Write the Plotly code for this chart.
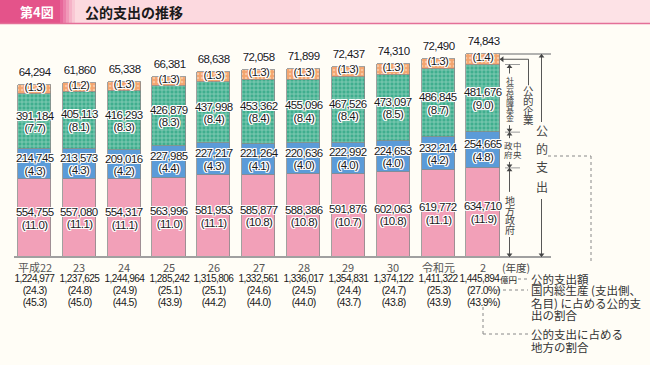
import plotly.graph_objects as go

# ---------------- data ----------------
years = ["平成22", "23", "24", "25", "26", "27", "28", "29", "30", "令和元", "2"]
local_gov = [554755, 557080, 554317, 563996, 581953, 585877, 588386, 591876, 602063, 619772, 634710]
local_gdp = [11.0, 11.1, 11.1, 11.0, 11.1, 10.8, 10.8, 10.7, 10.8, 11.1, 11.9]
central_gov = [214745, 213573, 209016, 227985, 227217, 221264, 220636, 222992, 224653, 232214, 254665]
central_gdp = [4.3, 4.3, 4.2, 4.4, 4.3, 4.1, 4.0, 4.0, 4.0, 4.2, 4.8]
social_fund = [391184, 405113, 416293, 426879, 437998, 453362, 455096, 467526, 473097, 486845, 481676]
social_gdp = [7.7, 8.1, 8.3, 8.3, 8.4, 8.4, 8.4, 8.4, 8.5, 8.7, 9.0]
public_ent = [64294, 61860, 65338, 66381, 68638, 72058, 71899, 72437, 74310, 72490, 74843]
public_gdp = [1.3, 1.2, 1.3, 1.3, 1.3, 1.3, 1.3, 1.3, 1.3, 1.3, 1.4]
total_exp = [1224977, 1237625, 1244964, 1285242, 1315806, 1332561, 1336017, 1354831, 1374122, 1411322, 1445894]
total_gdp = [24.3, 24.8, 24.9, 25.1, 25.1, 24.6, 24.5, 24.4, 24.7, 25.3, 27.0]
local_share = [45.3, 45.0, 44.5, 43.9, 44.2, 44.0, 44.0, 43.7, 43.8, 43.9, 43.9]

# ---------------- layout geometry ----------------
W, H = 650, 365
X0_PX, DX_PX = 34.5, 44.85          # first bar center, bar pitch (px)
BASE_PX = 257.0                      # baseline pixel row
SCALE = 203.0 / 1445894              # px per unit
x_range = [-X0_PX / DX_PX, (W - X0_PX) / DX_PX]
y_range = [-(H - BASE_PX) / SCALE, BASE_PX / SCALE]

BG = "#fffdf6"
NUM_FONT = "Liberation Sans"
JP_FONT = "Noto Sans CJK JP"
HALO = "-1px -1px 0 #fff, 1px -1px 0 #fff, -1px 1px 0 #fff, 1px 1px 0 #fff, 0 1px 0 #fff, 0 -1px 0 #fff, 1px 0 0 #fff, -1px 0 0 #fff"
ARROW_C = "#444444"


def px(x):
    return x / W


def py(y):
    return 1 - y / H


def xdata(xpx):
    return (xpx - X0_PX) / DX_PX


xs = list(range(len(years)))
fig = go.Figure()
common = dict(x=xs, width=0.74, hoverinfo="skip", showlegend=False)
fig.add_bar(y=local_gov, marker=dict(color="#f2a0b8", line=dict(color="#8a8a8a", width=0.8)), **common)
fig.add_bar(y=central_gov, marker=dict(color="#5b9bd8", line=dict(color="#8a8a8a", width=0.8)), **common)
fig.add_bar(y=social_fund, marker=dict(color="#3fae8e", line=dict(color="#8a8a8a", width=0.8),
                                       pattern=dict(shape="+", fgcolor="#dff3ea", bgcolor="#3fae8e",
                                                    size=4, solidity=0.35)), **common)
fig.add_bar(y=public_ent, marker=dict(color="#f3a46e", line=dict(color="#8a8a8a", width=0.8),
                                      pattern=dict(shape=".", fgcolor="#fde8d4", bgcolor="#f3a46e",
                                                   size=4, solidity=0.3)), **common)

ann = []
shapes = []


def note(x, y, text, family=JP_FONT, size=11, color="#1a1a1a", xref="paper", yref="paper",
         xanchor="center", yshift=0, xshift=0, halo=False):
    f = dict(family=family, size=size, color=color)
    if halo:
        f["shadow"] = HALO
    ann.append(dict(x=x, y=y, xref=xref, yref=yref, text=text, showarrow=False, font=f,
                    xanchor=xanchor, yanchor="middle", yshift=yshift, xshift=xshift))


# segment labels
for i in xs:
    c1 = local_gov[i]
    c2 = c1 + central_gov[i]
    c3 = c2 + social_fund[i]
    c4 = c3 + public_ent[i]
    for lo, hi, v, r in [(0, c1, local_gov[i], local_gdp[i]),
                         (c1, c2, central_gov[i], central_gdp[i]),
                         (c2, c3, social_fund[i], social_gdp[i])]:
        mid = (lo + hi) / 2
        note(i, mid, f"{v:,}", NUM_FONT, 11.5, xref="x", yref="y", yshift=6, halo=True)
        note(i, mid, f"({r:.1f})", NUM_FONT, 11.5, xref="x", yref="y", yshift=-6.5, halo=True)
    mid = (c3 + c4) / 2
    note(i, mid, f"({public_gdp[i]:.1f})", NUM_FONT, 11.5, xref="x", yref="y", yshift=2.5, halo=True)
    note(i, c4, f"{public_ent[i]:,}", NUM_FONT, 11.5, xref="x", yref="y", yshift=13, halo=True)

# bottom rows
n = len(years)
for i in xs:
    last_col = i == n - 1
    suf = "%" if last_col else ""
    note(i, py(267), years[i], JP_FONT, 11, "#555555", xref="x")
    note(i, py(278.5), f"{total_exp[i]:,}", NUM_FONT, 10.1, xref="x", xshift=-4 if last_col else 0)
    note(i, py(290), f"({total_gdp[i]:.1f}{suf})", NUM_FONT, 10.5, xref="x")
    note(i, py(302), f"({local_share[i]:.1f}{suf})", NUM_FONT, 10.5, xref="x")

note(px(498), py(278.5), "億円", JP_FONT, 8.5, xanchor="left")
note(px(516), py(267), "(年度)", JP_FONT, 10.5, "#444444")

# explanatory texts (bottom right)
for t, yy in [("公的支出額", 279), ("国内総生産 (支出側、", 290), ("名目) に占める公的支", 302.5),
              ("出の割合", 315), ("公的支出に占める", 334), ("地方の割合", 346.5)]:
    note(px(529), py(yy), t, JP_FONT, 11.5, "#333333", xanchor="left")

DOT = dict(color="#888888", width=1, dash="dot")
for (xa, ya, xb, yb) in [(518, 279, 528, 279), (497, 290, 528, 290), (483, 307, 483, 334),
                         (483, 334, 528, 334), (548, 156, 591, 156), (591, 156, 591, 262)]:
    shapes.append(dict(type="line", xref="paper", yref="paper", x0=px(xa), y0=py(ya), x1=px(xb), y1=py(yb),
                       line=DOT))

# brackets on the right of the last bar
last = n - 1
c1 = local_gov[last]
c2 = c1 + central_gov[last]
c3 = c2 + social_fund[last]
c4 = c3 + public_ent[last]
LINE = dict(color="#999999", width=1.5)
shapes.append(dict(type="line", xref="paper", yref="y", x0=px(14), x1=px(551), y0=0, y1=0,
                   line=dict(color="#a0a0a0", width=2)))
shapes.append(dict(type="line", xref="paper", yref="y", x0=px(499), x1=px(551), y0=c4, y1=c4, line=LINE))
for yv in (c3, c2, c1):
    shapes.append(dict(type="line", xref="paper", yref="y", x0=px(505), x1=px(520), y0=yv, y1=yv,
                       line=dict(color="#999999", width=1)))

heads_x, heads_y, heads_sym = [], [], []


def varrow(xp, tip, tail_px):
    """vertical arrow: tip at data value `tip`, tail `tail_px` pixels away (positive = below)."""
    tail = tip - tail_px * (1 / SCALE)
    shapes.append(dict(type="line", xref="paper", yref="y", x0=px(xp), x1=px(xp), y0=tip, y1=tail,
                       line=dict(color=ARROW_C, width=0.9)))
    sign = 1 if tail_px > 0 else -1
    heads_x.append(xdata(xp))
    heads_y.append(tip - sign * 2.2 / SCALE)
    heads_sym.append("triangle-up" if tail_px > 0 else "triangle-down")


def vtext(chars, xp, ys, size, color="#444444"):
    for ch, yy in zip(chars, ys):
        note(px(xp), py(yy), ch, JP_FONT, size, color)


# 公的支出
varrow(541.5, c4, 68)
varrow(541.5, 0, -58)
vtext("公的支出", 541.5, [130, 148, 166, 186], 12)
# 社会保障基金
varrow(509.5, c3, 9)
varrow(509.5, c2, -7)
vtext("社会保障基金", 509.5, [80.5, 87.8, 95.1, 102.4, 109.7, 117], 8)
# 中央政府
varrow(509.5, c2, 6)
varrow(509.5, c1, -6)
vtext("中央", 517.5, [145, 153.5], 8.5)
vtext("政府", 508.5, [145, 153.5], 8.5)
# 地方政府
varrow(509.5, c1, 24)
varrow(509.5, 0, -20)
vtext("地方政府", 509.5, [200.5, 210, 219.5, 229], 10)
# 公的企業
mid_pe = (c3 + c4) / 2
shapes.append(dict(type="line", xref="paper", yref="y", x0=px(500), x1=px(528.5), y0=mid_pe, y1=mid_pe,
                   line=dict(color=ARROW_C, width=0.9)))
shapes.append(dict(type="line", xref="paper", yref="y", x0=px(528.5), x1=px(528.5), y0=mid_pe,
                   y1=mid_pe - 26 / SCALE, line=dict(color=ARROW_C, width=0.9)))
heads_x.append(xdata(502.2))
heads_y.append(mid_pe)
heads_sym.append("triangle-left")
vtext("公的企業", 528.5, [91, 100.5, 110, 119.5], 10.5)

fig.add_scatter(x=heads_x, y=heads_y, mode="markers", hoverinfo="skip", showlegend=False,
                marker=dict(symbol=heads_sym, size=5, color=ARROW_C, line=dict(width=0)))

# header band
shapes.append(dict(type="rect", xref="paper", yref="paper", x0=0, x1=1, y0=py(23), y1=py(0),
                   fillcolor="#fcd9df", line=dict(width=0)))
shapes.append(dict(type="rect", xref="paper", yref="paper", x0=px(300), x1=1, y0=py(23), y1=py(0),
                   fillcolor="#fde2e6", line=dict(width=0)))
shapes.append(dict(type="rect", xref="paper", yref="paper", x0=0, x1=px(60), y0=py(23), y1=py(0),
                   fillcolor="#e4538a", line=dict(width=0)))
fade = ["#e7679a", "#ec80aa", "#f199b9", "#f5b2c7", "#f9c7d4"]
for k, col in enumerate(fade):
    shapes.append(dict(type="rect", xref="paper", yref="paper", x0=px(60 + 3 * k), x1=px(63 + 3 * k),
                       y0=py(23), y1=py(0), fillcolor=col, line=dict(width=0)))
shapes.append(dict(type="line", xref="paper", yref="paper", x0=0, x1=1, y0=py(23.5), y1=py(23.5),
                   line=dict(color="#e46f98", width=1.5)))
note(px(37), py(12), "<b>第4図</b>", JP_FONT, 13, "#ffffff")
note(px(83), py(12), "<b>公的支出の推移</b>", JP_FONT, 14, "#1a1a1a", xanchor="left")

fig.update_layout(
    width=W, height=H, barmode="stack", bargap=0,
    margin=dict(l=0, r=0, t=0, b=0),
    paper_bgcolor=BG, plot_bgcolor=BG,
    xaxis=dict(range=x_range, visible=False, fixedrange=True),
    yaxis=dict(range=y_range, visible=False, fixedrange=True),
    annotations=ann, shapes=shapes, showlegend=False,
)

post = """
document.body.style.margin = '0';
document.body.style.padding = '0';
document.querySelectorAll('text.annotation-text').forEach(function (t) {
  if ((t.style.fontFamily || '').indexOf('Liberation') >= 0) { t.style.letterSpacing = '-0.55px'; }
});
"""
fig.write_html("out.html", config={"displayModeBar": False}, post_script=post)
